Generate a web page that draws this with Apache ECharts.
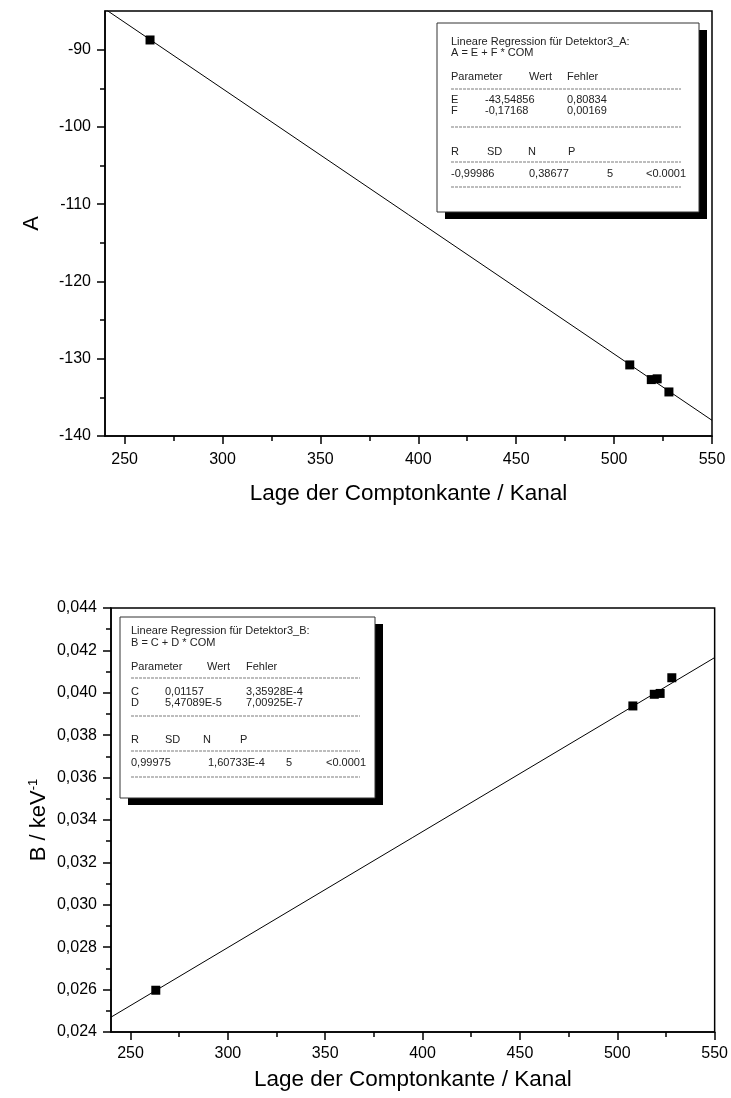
<!DOCTYPE html>
<html><head><meta charset="utf-8">
<script src="https://cdn.jsdelivr.net/npm/echarts@6/dist/echarts.min.js"></script>
<style>html,body{margin:0;padding:0;background:#fff}#c{width:731px;height:1098px}</style>
</head><body><div id="c"></div>
<script>
// ---- data ----
const channels = [263, 508, 519, 522, 528];
const valuesA = [-88.75, -130.8, -132.7, -132.6, -134.3];
const valuesB = [0.02597, 0.03938, 0.03993, 0.03997, 0.04071];
const fitA = [[240, -84.75], [550, -137.97]];
const fitB = [[240, 0.02470], [550, 0.04166]];
const xTicks = [250, 300, 350, 400, 450, 500, 550];
const xMinor = [275, 325, 375, 425, 475, 525];
const aTicks = [-140, -130, -120, -110, -100, -90];
const aMinor = [-135, -125, -115, -105, -95];
const bTicks = [0.024, 0.026, 0.028, 0.030, 0.032, 0.034, 0.036, 0.038, 0.040, 0.042, 0.044];
const bMinor = [0.025, 0.027, 0.029, 0.031, 0.033, 0.035, 0.037, 0.039, 0.041, 0.043];
const xTitle = 'Lage der Comptonkante / Kanal';
const boxA = [
  ['Lineare Regression für Detektor3_A:'],
  ['A = E + F * COM'],
  ['Parameter', 'Wert', 'Fehler'],
  ['E', '-43,54856', '0,80834'],
  ['F', '-0,17168', '0,00169'],
  ['R', 'SD', 'N', 'P'],
  ['-0,99986', '0,38677', '5', '<0.0001']
];
const boxB = [
  ['Lineare Regression für Detektor3_B:'],
  ['B = C + D * COM'],
  ['Parameter', 'Wert', 'Fehler'],
  ['C', '0,01157', '3,35928E-4'],
  ['D', '5,47089E-5', '7,00925E-7'],
  ['R', 'SD', 'N', 'P'],
  ['0,99975', '1,60733E-4', '5', '<0.0001']
];

// ---- layout ----
const FONT = 'Liberation Sans, Arial, sans-serif';
const chart = echarts.init(document.getElementById('c'), null, {renderer: 'canvas'});

function xAxes(grid, labelMargin, nameGap) {
  return [{
    type: 'value', gridIndex: grid, min: 240, max: 550, position: 'bottom',
    name: xTitle, nameLocation: 'middle', nameGap: nameGap, nameMoveOverlap: false,
    nameTextStyle: {fontFamily: FONT, fontSize: 22.5, color: '#000'},
    axisLine: {show: true, onZero: false, lineStyle: {color: '#000', width: 1.5}},
    axisTick: {show: true, customValues: xTicks, length: 8, lineStyle: {color: '#000', width: 1.5}},
    axisLabel: {customValues: xTicks, margin: labelMargin, fontFamily: FONT, fontSize: 16, color: '#000'},
    splitLine: {show: false}
  }, {
    type: 'value', gridIndex: grid, min: 240, max: 550, position: 'bottom',
    axisLine: {show: false},
    axisTick: {show: true, customValues: xMinor, length: 5, lineStyle: {color: '#000', width: 1.5}},
    axisLabel: {show: false}, splitLine: {show: false}
  }];
}
function yAxes(grid, min, max, ticks, minor, fmt, name, nameGap) {
  return [{
    type: 'value', gridIndex: grid, min: min, max: max, position: 'left',
    name: name, nameLocation: 'middle', nameGap: nameGap, nameRotate: 90, nameMoveOverlap: false,
    nameTextStyle: {fontFamily: FONT, fontSize: 22, color: '#000',
      rich: {n: {fontFamily: FONT, fontSize: 22, color: '#000'},
             s: {fontFamily: FONT, fontSize: 13, color: '#000', verticalAlign: 'top', padding: [0, 0, 10, 0]}}},
    axisLine: {show: true, onZero: false, lineStyle: {color: '#000', width: 1.5}},
    axisTick: {show: true, customValues: ticks, length: 8, lineStyle: {color: '#000', width: 1.5}},
    axisLabel: {customValues: ticks, margin: 14, fontFamily: FONT, fontSize: 16, color: '#000', formatter: fmt},
    splitLine: {show: false}
  }, {
    type: 'value', gridIndex: grid, min: min, max: max, position: 'left',
    axisLine: {show: false},
    axisTick: {show: true, customValues: minor, length: 5, lineStyle: {color: '#000', width: 1.5}},
    axisLabel: {show: false}, splitLine: {show: false}
  }];
}

const xs = xAxes(0, 16, 46).concat(xAxes(1, 14, 36));
const ys = yAxes(0, -140, -85, aTicks, aMinor, v => String(v), 'A', 62)
  .concat(yAxes(1, 0.024, 0.044, bTicks, bMinor, v => v.toFixed(3).replace('.', ','), '{n|B / keV}{s|-1}', 61));

function boxGraphics(bx, by, bw, bh, rows, cols, rowsY, dashY, dashX0, dashX1) {
  const g = [];
  g.push({type: 'rect', shape: {x: bx + 8, y: by + 7, width: bw, height: bh}, style: {fill: '#000'}, z: 10});
  g.push({type: 'rect', shape: {x: bx, y: by, width: bw, height: bh}, style: {fill: '#fff', stroke: '#333', lineWidth: 1}, z: 11});
  rows.forEach((row, i) => {
    row.forEach((t, j) => {
      g.push({type: 'text', x: cols[i][j], y: rowsY[i], z: 12,
        style: {text: t, fill: '#222', font: '11px ' + FONT, textVerticalAlign: 'middle', textAlign: 'left'}});
    });
  });
  dashY.forEach(y => g.push({type: 'line', z: 12, shape: {x1: dashX0, y1: y, x2: dashX1, y2: y},
    style: {stroke: '#444', lineWidth: 0.7, lineDash: [3, 1]}}));
  return g;
}
const colsA = [[451], [451], [451, 529, 567], [451, 485, 567], [451, 485, 567], [451, 487, 528, 568], [451, 529, 607, 646]];
const colsB = [[131], [131], [131, 207, 246], [131, 165, 246], [131, 165, 246], [131, 165, 203, 240], [131, 208, 286, 326]];
const graphics = boxGraphics(437, 23, 262, 189, boxA, colsA, [42, 53, 77, 100, 111, 152, 174], [89, 127, 162, 187], 451, 681)
  .concat(boxGraphics(120, 617, 255, 181, boxB, colsB, [631, 643, 667, 692, 703, 740, 763], [678, 716, 751, 777], 131, 360));

const sq = {symbol: 'rect', symbolSize: 9, itemStyle: {color: '#000', opacity: 1}};
chart.setOption({
  animation: false,
  backgroundColor: '#fff',
  grid: [
    {left: 105, right: 19, top: 11, bottom: 662, show: true, borderColor: '#000', borderWidth: 1.5, backgroundColor: 'transparent'},
    {left: 111, right: 15, top: 608, bottom: 66, show: true, borderColor: '#000', borderWidth: 1.5, backgroundColor: 'transparent'}
  ],
  xAxis: xs,
  yAxis: ys,
  series: [
    {type: 'line', xAxisIndex: 0, yAxisIndex: 0, data: fitA, showSymbol: false, clip: true,
     lineStyle: {color: '#000', width: 1}, z: 2},
    Object.assign({type: 'scatter', xAxisIndex: 0, yAxisIndex: 0, data: channels.map((c, i) => [c, valuesA[i]]), z: 3}, sq),
    {type: 'line', xAxisIndex: 2, yAxisIndex: 2, data: fitB, showSymbol: false, clip: true,
     lineStyle: {color: '#000', width: 1}, z: 2},
    Object.assign({type: 'scatter', xAxisIndex: 2, yAxisIndex: 2, data: channels.map((c, i) => [c, valuesB[i]]), z: 3}, sq)
  ],
  graphic: graphics
});
</script></body></html>
